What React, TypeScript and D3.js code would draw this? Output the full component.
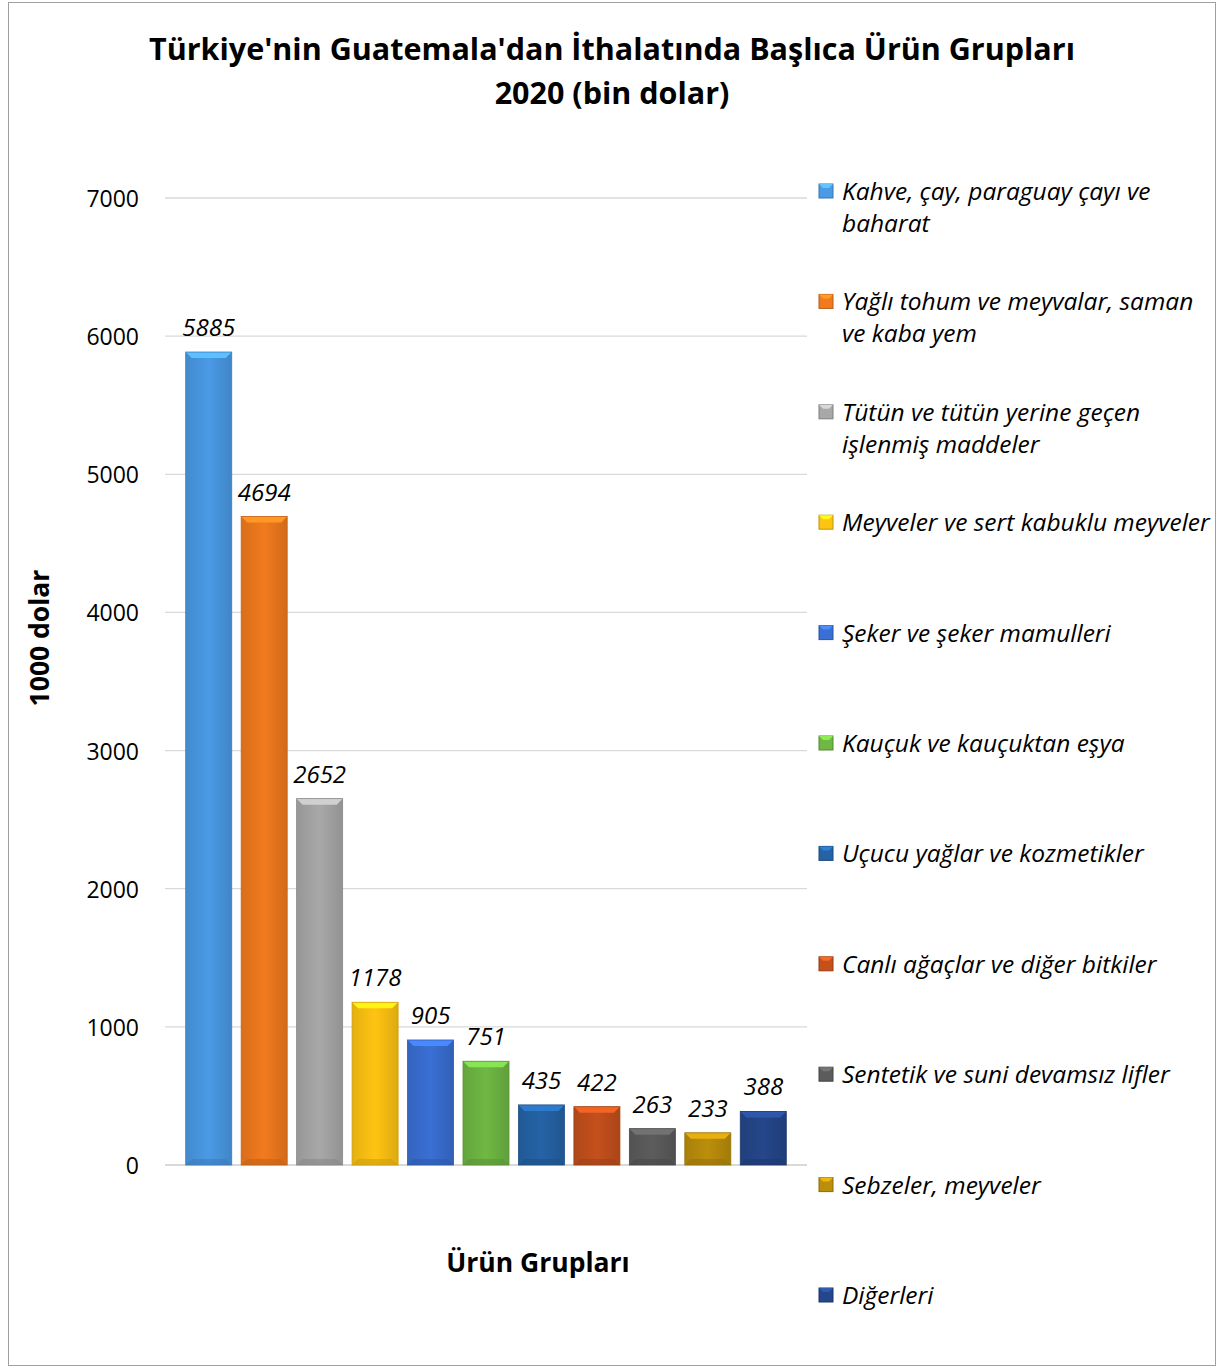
import React from "react";
import * as d3 from "d3";

const categories = [
  "Kahve, çay, paraguay çayı ve baharat",
  "Yağlı tohum ve meyvalar, saman ve kaba yem",
  "Tütün ve tütün yerine geçen işlenmiş maddeler",
  "Meyveler ve sert kabuklu meyveler",
  "Şeker ve şeker mamulleri",
  "Kauçuk ve kauçuktan eşya",
  "Uçucu yağlar ve kozmetikler",
  "Canlı ağaçlar ve diğer bitkiler",
  "Sentetik ve suni devamsız lifler",
  "Sebzeler, meyveler",
  "Diğerleri",
];
const legendLines = [
  ["Kahve, çay, paraguay çayı ve", "baharat"],
  ["Yağlı tohum ve meyvalar, saman", "ve kaba yem"],
  ["Tütün ve tütün yerine geçen", "işlenmiş maddeler"],
  ["Meyveler ve sert kabuklu meyveler"],
  ["Şeker ve şeker mamulleri"],
  ["Kauçuk ve kauçuktan eşya"],
  ["Uçucu yağlar ve kozmetikler"],
  ["Canlı ağaçlar ve diğer bitkiler"],
  ["Sentetik ve suni devamsız lifler"],
  ["Sebzeler, meyveler"],
  ["Diğerleri"],
];
const values = [5885, 4694, 2652, 1178, 905, 751, 435, 422, 263, 233, 388];
const colors = [
  "#4a9ae6", "#f27a1e", "#a8a8a8", "#ffc412", "#3a6fd4", "#6fb844",
  "#2563a6", "#c4501c", "#5c5c5c", "#bb8e0c", "#25468a",
];
const yTicks = [0, 1000, 2000, 3000, 4000, 5000, 6000, 7000];

const FONT = "'Open Sans', 'Noto Sans', sans-serif";

export default function App() {
  const W = 1223, H = 1369;
  const y = d3.scaleLinear().domain([0, 7000]).range([1165, 198]);
  const x = d3.scaleBand<number>().domain(d3.range(values.length)).range([181, 791]).paddingInner(0.17).paddingOuter(0.085);
  const bw = x.bandwidth();
  const bev = 6;
  const legendY0 = 200;
  const legendStep = 110.4;

  return (
    <svg width={W} height={H} style={{ display: "block", position: "absolute", left: 0, top: 0 }} fontFamily={FONT}>
      <defs>
        {colors.map((c, i) => {
          const base = d3.color(c)!;
          return (
            <linearGradient key={i} id={`g${i}`} x1="0" x2="1" y1="0" y2="0">
              <stop offset="0" stopColor={d3.color(c)!.darker(0.3).toString()} />
              <stop offset="0.5" stopColor={base.toString()} />
              <stop offset="1" stopColor={d3.color(c)!.darker(0.4).toString()} />
            </linearGradient>
          );
        })}
      </defs>
      <rect x={8.5} y={2.5} width={1207} height={1363} fill="#fff" stroke="#a0a0a0" strokeWidth={1} />
      <text x={612} y={60} textAnchor="middle" fontSize={30.5} fontWeight="bold" fill="#000">
        Türkiye'nin Guatemala'dan İthalatında Başlıca Ürün Grupları
      </text>
      <text x={612} y={104} textAnchor="middle" fontSize={30.5} fontWeight="bold" fill="#000">
        2020 (bin dolar)
      </text>
      {yTicks.map((t) => (
        <g key={t}>
          <line x1={165} x2={807} y1={y(t)} y2={y(t)} stroke="#d9d9d9" strokeWidth={t === 0 ? 2 : 1.3} />
          <text x={139} y={y(t) + 9} textAnchor="end" fontSize={23} fill="#000">{t}</text>
        </g>
      ))}
      <text transform={`translate(49,638) rotate(-90)`} textAnchor="middle" fontSize={26.5} fontWeight="bold" fill="#000">1000 dolar</text>
      <text x={538} y={1272} textAnchor="middle" fontSize={26.5} fontWeight="bold" fill="#000">Ürün Grupları</text>
      {values.map((v, i) => {
        const x0 = x(i)!;
        const x1 = x0 + bw;
        const yt = y(v);
        const yb = y(0);
        const c = colors[i];
        const light = d3.color(c)!.brighter(0.6).toString();
        const dark = d3.color(c)!.darker(0.6).toString();
        const b = Math.min(bev, (yb - yt) / 2);
        return (
          <g key={i}>
            <rect x={x0} y={yt} width={bw} height={yb - yt} fill={`url(#g${i})`} />
            <polygon points={`${x0},${yt} ${x1},${yt} ${x1 - b},${yt + b} ${x0 + b},${yt + b}`} fill={light} />
            <polygon points={`${x0},${yb} ${x1},${yb} ${x1 - b},${yb - b} ${x0 + b},${yb - b}`} fill={dark} opacity={0.6} />
            <rect x={x0} y={yt} width={bw} height={yb - yt} fill="none" stroke={dark} strokeWidth={0.8} />
            <text x={x0 + bw / 2} y={yt - 16} textAnchor="middle" fontSize={24} fontStyle="italic" fill="#000">{v}</text>
          </g>
        );
      })}
      {legendLines.map((lines, i) => {
        const ly = legendY0 + i * legendStep;
        const c = colors[i];
        return (
          <g key={i}>
            <rect x={819} y={ly - 16} width={14} height={14} fill={c} stroke={d3.color(c)!.darker(0.8).toString()} strokeWidth={1} />
            <polygon points={`${819},${ly - 16} ${833},${ly - 16} ${829},${ly - 12} ${823},${ly - 12}`} fill={d3.color(c)!.brighter(0.7).toString()} />
            {lines.map((l, j) => (
              <text key={j} x={842} y={ly + j * 32} fontSize={24.5} fontStyle="italic" fill="#000">{l}</text>
            ))}
          </g>
        );
      })}
    </svg>
  );
}
